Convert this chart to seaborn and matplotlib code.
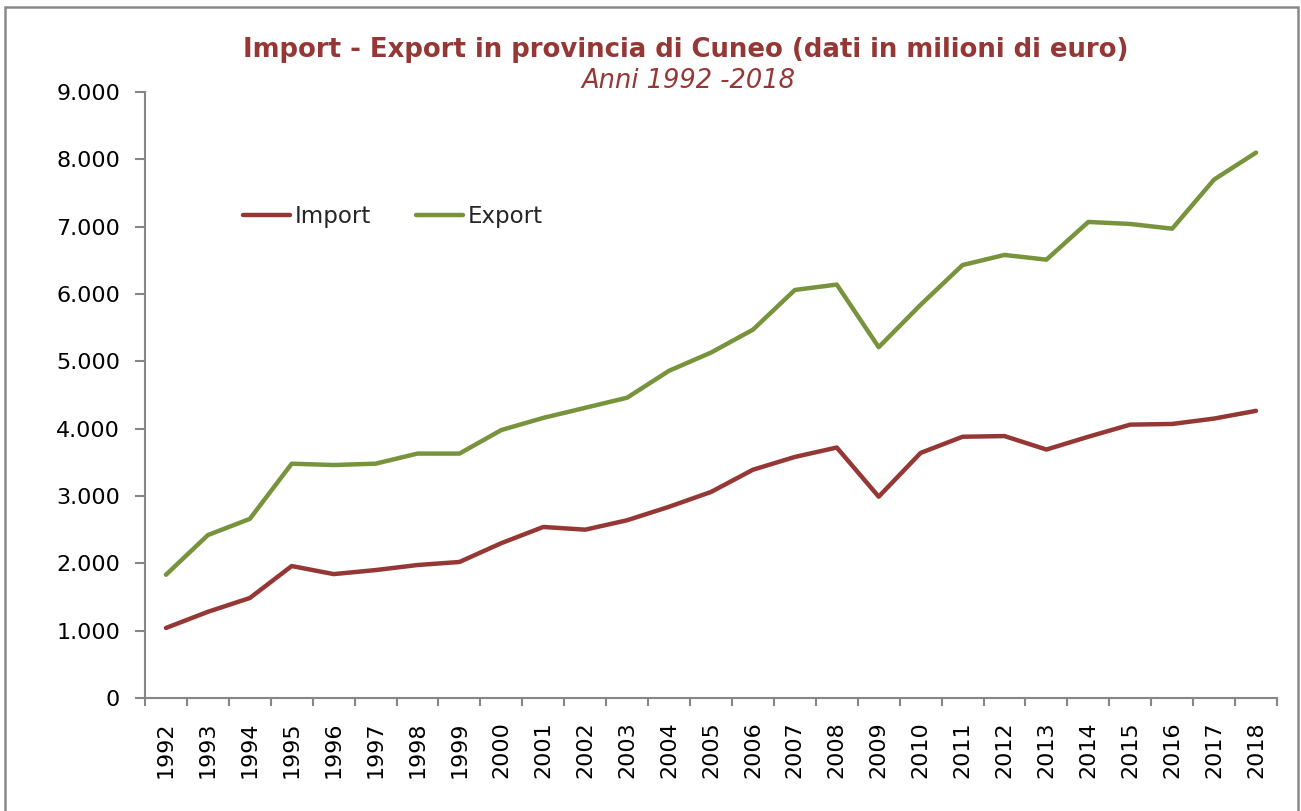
import matplotlib
matplotlib.use("Agg")
import matplotlib.pyplot as plt
import seaborn as sns
import pandas as pd
from matplotlib.patches import Rectangle
from matplotlib.ticker import FuncFormatter, FixedLocator

years = list(range(1992, 2019))
import_vals = [1040, 1280, 1485, 1960, 1840, 1900, 1975, 2020, 2300, 2540,
               2500, 2640, 2840, 3060, 3390, 3580, 3720, 2990, 3640, 3880,
               3890, 3690, 3880, 4060, 4070, 4150, 4265]
export_vals = [1830, 2420, 2660, 3480, 3460, 3480, 3630, 3630, 3980, 4160,
               4310, 4460, 4860, 5130, 5470, 6060, 6140, 5210, 5840, 6430,
               6580, 6510, 7070, 7040, 6970, 7700, 8100]
series_names = ["Import", "Export"]
colors = ["#953735", "#77933C"]
title = "Import - Export in provincia di Cuneo (dati in milioni di euro)"
subtitle = "Anni 1992 -2018"

df = pd.DataFrame({
    "Anno": years * 2,
    "Valore": import_vals + export_vals,
    "Serie": [series_names[0]] * len(years) + [series_names[1]] * len(years),
})

sns.set_theme(style="white")
plt.rcParams["font.family"] = ["DejaVu Sans"]

W, H = 1301, 811
fig = plt.figure(figsize=(W / 100, H / 100), dpi=100)
ax = fig.add_axes([145 / W, 1 - 698 / H, (1277 - 145) / W, (698 - 92) / H])

sns.lineplot(data=df, x="Anno", y="Valore", hue="Serie", hue_order=series_names,
             palette=colors, linewidth=3.2, ax=ax, legend=True,
             solid_joinstyle="round", solid_capstyle="round")

ax.set_xlim(years[0] - 0.5, years[-1] + 0.5)
ax.set_ylim(0, 9000)
ax.set_yticks(range(0, 9001, 1000))
ax.yaxis.set_major_formatter(FuncFormatter(lambda v, p: f"{int(v):,}".replace(",", ".")))
ax.set_xticks(years)
ax.set_xticklabels([str(y) for y in years], rotation=90)
ax.xaxis.set_minor_locator(FixedLocator([y - 0.5 for y in years] + [years[-1] + 0.5]))
ax.set_xlabel("")
ax.set_ylabel("")

spine_c = "#868686"
for s in ["top", "right"]:
    ax.spines[s].set_visible(False)
for s in ["left", "bottom"]:
    ax.spines[s].set_color(spine_c)
    ax.spines[s].set_linewidth(1.5)
ax.tick_params(axis="x", which="major", length=0, pad=17, labelsize=16, labelcolor="black")
ax.tick_params(axis="x", which="minor", length=6, width=1.5, color=spine_c, direction="out", bottom=True)
ax.tick_params(axis="y", which="major", length=7, width=1.5, color=spine_c, direction="out",
               left=True, labelsize=16, labelcolor="black", pad=11)
ax.grid(False)

leg = ax.legend(loc="center left", bbox_to_anchor=(0.087, 0.795), ncol=2, frameon=False,
                fontsize=16.5, handlelength=2.05, handletextpad=0.2, columnspacing=1.95,
                borderpad=0, borderaxespad=0)
for line in leg.get_lines():
    line.set_linewidth(3.2)

fig.text(686 / W, 1 - 50 / H, title, ha="center", va="center", fontsize=18.7,
         fontweight="bold", color="#953735")
fig.text(688 / W, 1 - 81 / H, subtitle, ha="center", va="center", fontsize=18.5,
         fontstyle="italic", color="#953735")

fig.add_artist(Rectangle((5 / W, -0.01), (1298 - 5) / W, 1 - 7 / H + 0.01,
                         transform=fig.transFigure, fill=False,
                         edgecolor="#8a8a8a", linewidth=1.8))

fig.savefig("out.png", dpi=100, facecolor="white")
